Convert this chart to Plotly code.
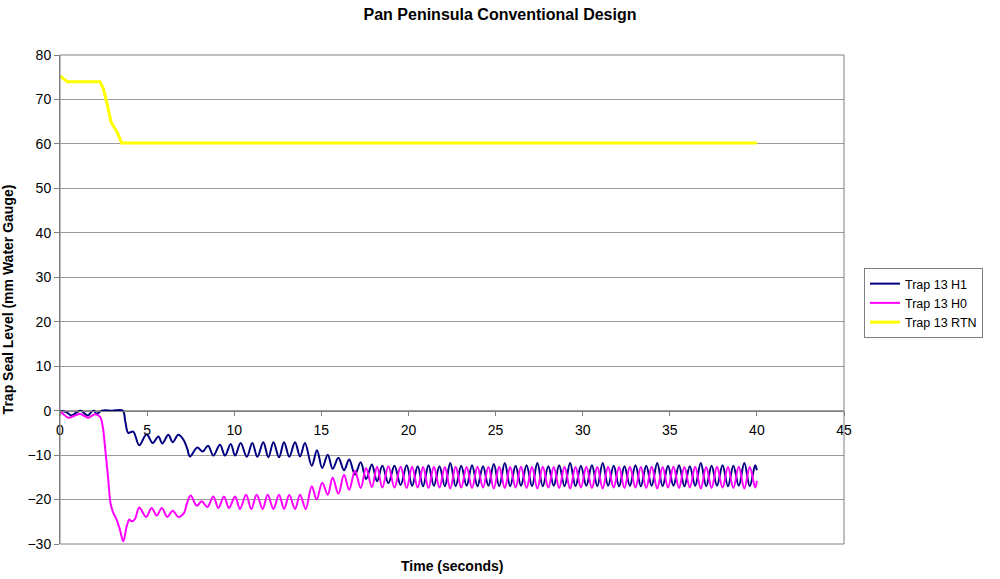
import plotly.graph_objects as go

# ---------------- data ----------------
h1_time = [0.0, 0.35, 0.67, 0.95, 1.19, 1.4, 1.6, 1.8, 1.95, 2.1, 2.4, 3.0, 3.6,
           3.75, 3.92, 4.2, 4.55, 4.97, 5.32, 5.65, 5.87, 6.22, 6.47, 6.79, 7.08,
           7.3, 7.46, 7.88, 8.19, 8.5, 8.8, 9.18, 9.47, 9.8, 10.05, 10.37, 10.72,
           11.04, 11.33, 11.67, 11.96, 12.25, 12.57, 12.86, 13.16, 13.49, 13.78,
           14.06, 14.45, 14.75, 15.05, 15.37, 15.65, 15.98, 16.3, 16.6, 16.93,
           17.26, 17.57, 17.9, 18.2, 18.5, 18.85, 19.2, 19.55,
           19.9, 20.21, 20.53, 20.84, 21.15, 21.46, 21.78, 22.09, 22.4, 22.71,
           23.03, 23.34, 23.65, 23.96, 24.28, 24.59, 24.9, 25.21, 25.53, 25.84,
           26.15, 26.46, 26.78, 27.09, 27.4, 27.71, 28.03, 28.34, 28.65, 28.96,
           29.28, 29.59, 29.9, 30.21, 30.53, 30.84, 31.15, 31.46, 31.78, 32.09,
           32.4, 32.71, 33.03, 33.34, 33.65, 33.96, 34.28, 34.59, 34.9, 35.21,
           35.53, 35.84, 36.15, 36.46, 36.78, 37.09, 37.4, 37.71, 38.03, 38.34,
           38.65, 38.96, 39.28, 39.59, 39.9, 40.0]
h1_level = [0.0, -0.3, -1.1, -0.4, 0.0, -0.6, -1.1, -0.3, 0.0, -0.7, 0.0, 0.0, 0.0,
            -2.5, -5.0, -4.7, -7.8, -5.3, -7.3, -5.8, -7.4, -5.4, -7.1, -5.4, -6.5,
            -8.5, -10.3, -8.3, -9.2, -7.9, -10.1, -7.7, -10.1, -7.5, -10.1, -7.3, -10.4,
            -7.3, -10.4, -7.1, -10.5, -7.1, -10.5, -7.1, -10.4, -7.1, -10.3,
            -7.3, -12.4, -8.9, -12.9, -9.9, -13.1, -10.6, -13.4, -11.0, -14.4,
            -11.6, -15.4, -12.1, -15.9, -12.4, -16.3, -12.4, -16.7,
            -12.3, -16.9, -12.5, -17.0, -12.3, -16.9, -12.5, -17.0, -11.8, -17.0,
            -12.4, -16.9, -12.3, -17.0, -12.5, -16.9, -12.0, -17.0, -11.8, -17.0,
            -12.4, -16.9, -12.3, -17.0, -11.8, -17.0, -12.5, -16.9, -12.3, -17.0,
            -11.8, -17.0, -12.4, -16.9, -12.3, -17.0, -11.8, -16.9, -12.4, -17.0,
            -12.5, -16.9, -12.3, -17.0, -12.4, -16.9, -11.8, -17.0, -12.4, -16.9,
            -12.3, -17.0, -12.5, -16.9, -11.8, -17.0, -12.4, -16.9, -12.3, -17.0,
            -12.4, -16.9, -11.8, -17.0, -12.3, -13.4]

h0_time = [0.0, 0.2, 0.48, 0.8, 1.15, 1.4, 1.63, 2.0, 2.3, 2.45, 2.58, 2.77, 2.9,
           3.06, 3.25, 3.44, 3.63, 3.83, 3.98, 4.1, 4.3, 4.55, 4.94, 5.26, 5.55,
           5.84, 6.16, 6.47, 6.79, 7.12, 7.27, 7.5, 7.85, 8.13, 8.46, 8.8, 9.09,
           9.41, 9.7, 10.05, 10.33, 10.68, 10.98, 11.29, 11.63, 11.92, 12.25,
           12.57, 12.86, 13.16, 13.49, 13.78, 14.1, 14.45, 14.73, 15.05, 15.37,
           15.65, 15.98, 16.3, 16.6, 16.93, 17.26, 17.57, 17.9, 18.2, 18.5,
           18.85, 19.2, 19.55,
           19.9, 20.21, 20.53, 20.84, 21.15, 21.46, 21.78, 22.09, 22.4, 22.71,
           23.03, 23.34, 23.65, 23.96, 24.28, 24.59, 24.9, 25.21, 25.53, 25.84,
           26.15, 26.46, 26.78, 27.09, 27.4, 27.71, 28.03, 28.34, 28.65, 28.96,
           29.28, 29.59, 29.9, 30.21, 30.53, 30.84, 31.15, 31.46, 31.78, 32.09,
           32.4, 32.71, 33.03, 33.34, 33.65, 33.96, 34.28, 34.59, 34.9, 35.21,
           35.53, 35.84, 36.15, 36.46, 36.78, 37.09, 37.4, 37.71, 38.03, 38.34,
           38.65, 38.96, 39.28, 39.59, 39.9, 40.0]
h0_level = [0.0, -0.8, -1.6, -1.2, -0.75, -1.2, -1.6, -0.8, -1.4, -3.5, -8.0, -15.5, -20.8,
            -23.0, -24.5, -26.8, -29.4, -26.0, -24.5, -24.9, -24.4, -21.8, -23.9, -21.9, -23.6,
            -21.9, -23.9, -22.5, -23.9, -23.0, -21.1, -19.1, -21.4, -20.4, -21.7, -19.3, -21.9,
            -19.3, -21.9, -19.3, -22.1, -18.9, -22.1, -18.9, -22.1, -18.9, -22.1,
            -18.9, -22.1, -19.0, -22.1, -18.9, -22.1, -17.0, -20.0, -16.2, -18.9,
            -15.1, -18.7, -14.4, -17.8, -13.5, -17.4, -12.9, -17.2, -12.6, -17.3,
            -12.5, -17.3, -12.6,
            -17.4, -12.6, -17.3, -12.7, -17.4, -12.6, -17.3, -12.7, -17.5, -12.6,
            -17.3, -12.7, -17.4, -12.6, -17.3, -12.7, -17.5, -12.6, -17.4, -12.7,
            -17.3, -12.6, -17.4, -12.7, -17.5, -12.6, -17.3, -12.7, -17.4, -12.6,
            -17.5, -12.7, -17.3, -12.6, -17.4, -12.7, -17.5, -12.6, -17.3, -12.7,
            -17.4, -12.6, -17.3, -12.7, -17.4, -12.6, -17.5, -12.7, -17.3, -12.6,
            -17.4, -12.7, -17.3, -12.6, -17.5, -12.7, -17.4, -12.6, -17.3, -12.7,
            -17.4, -12.6, -17.5, -12.7, -17.3, -15.8]

rtn_time = [0.0, 0.42, 2.3, 2.49, 2.68, 2.93, 3.16, 3.29, 3.54, 40.0]
rtn_level = [75.3, 74.0, 74.0, 72.4, 69.4, 64.9, 63.4, 62.6, 60.2, 60.2]

series_names = ["Trap 13 H1", "Trap 13 H0", "Trap 13 RTN"]
chart_title = "Pan Peninsula Conventional Design"
x_title = "Time (seconds)"
y_title = "Trap Seal Level (mm Water Gauge)"

# ---------------- figure ----------------
FONT = "Liberation Sans, Arial, sans-serif"
GRID = "#9a9a9a"
FRAME = "#808080"

fig = go.Figure()
fig.add_trace(go.Scatter(x=h1_time, y=h1_level, mode="lines", name=series_names[0],
                         line=dict(color="#000080", width=2, shape="spline", smoothing=1.0)))
fig.add_trace(go.Scatter(x=h0_time, y=h0_level, mode="lines", name=series_names[1],
                         line=dict(color="#FF00FF", width=2, shape="spline", smoothing=1.0)))
fig.add_trace(go.Scatter(x=rtn_time, y=rtn_level, mode="lines", name=series_names[2],
                         line=dict(color="#FFFF00", width=3)))

fig.update_layout(
    width=1000, height=579,
    margin=dict(l=60, r=156, t=55, b=35),
    paper_bgcolor="white", plot_bgcolor="white",
    font=dict(family=FONT, size=14, color="black"),
    title=dict(text="<b>" + chart_title + "</b>", x=0.5, xref="container", xanchor="center",
               y=1 - 14 / 579, yref="container", yanchor="middle",
               font=dict(family=FONT, size=16, color="black")),
    xaxis=dict(range=[0, 45], dtick=5, tick0=0, anchor="free", position=30 / 110,
               showgrid=False, zeroline=False, showline=True, linecolor=FRAME, linewidth=1,
               ticks="outside", ticklen=4, tickcolor=FRAME, ticklabelstandoff=3,
               tickfont=dict(family=FONT, size=14, color="black"), automargin=False),
    yaxis=dict(range=[-30, 80], dtick=10, tick0=0, showgrid=True, gridcolor=GRID, gridwidth=1,
               zeroline=False, showline=True, linecolor=FRAME, linewidth=1,
               ticks="outside", ticklen=5, tickcolor=FRAME,
               tickfont=dict(family=FONT, size=14, color="black"),
               title=dict(text="<b>" + y_title + "</b>", font=dict(family=FONT, size=14, color="black"),
                          standoff=10),
               automargin=False),
    legend=dict(x=(864 - 60) / 784, y=(544 - 268) / 489, xanchor="left", yanchor="top",
                bordercolor=FRAME, borderwidth=1, bgcolor="white",
                font=dict(family=FONT, size=12.5, color="black"), itemwidth=30,
                tracegroupgap=0),
    showlegend=True,
    shapes=[dict(type="rect", xref="paper", yref="paper", x0=0, x1=1, y0=0, y1=1,
                 line=dict(color=FRAME, width=1), layer="above")],
    annotations=[dict(text="<b>" + x_title + "</b>", xref="paper", yref="paper",
                      x=0.5, y=(544 - 566) / 489, xanchor="center", yanchor="middle",
                      showarrow=False, font=dict(family=FONT, size=14, color="black"))],
)

fig.write_html("out.html", include_plotlyjs=True, full_html=True,
               config={"displayModeBar": False},
               post_script="document.body.style.margin='0';document.body.style.overflow='hidden';")
